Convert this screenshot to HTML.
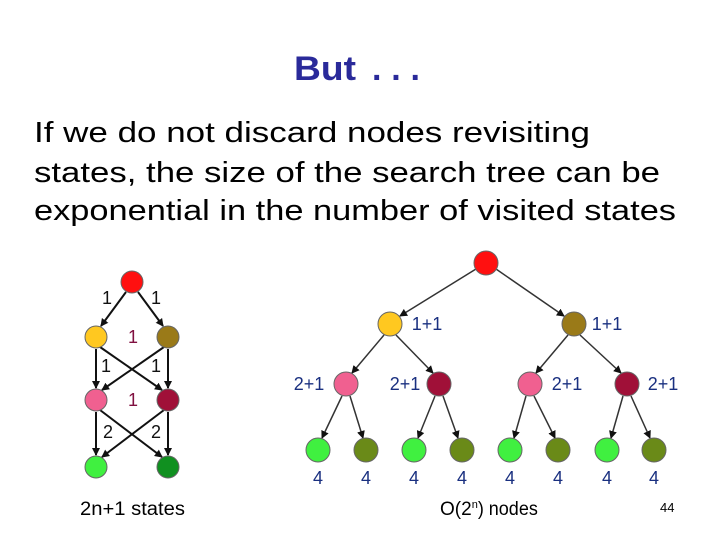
<!DOCTYPE html>
<html><head><meta charset="utf-8"><style>body{margin:0;background:#fff}svg{display:block}</style></head><body>
<svg width="720" height="540" viewBox="0 0 720 540" xmlns="http://www.w3.org/2000/svg" font-family="Liberation Sans, sans-serif">
<defs><marker id="a" markerWidth="8" markerHeight="8" refX="7" refY="4" orient="auto" markerUnits="userSpaceOnUse"><path d="M0,0 L8,4 L0,8 z" fill="#111"/></marker></defs>
<text x="294" y="80" font-size="34" font-weight="bold" fill="#2a2a9a" textLength="62" lengthAdjust="spacingAndGlyphs">But</text>
<text x="372" y="80" font-size="34" font-weight="bold" fill="#2a2a9a" textLength="48" lengthAdjust="spacing">...</text>
<g font-size="29" fill="#000">
<text x="34" y="142" textLength="556" lengthAdjust="spacingAndGlyphs">If we do not discard nodes revisiting</text>
<text x="34" y="182" textLength="626" lengthAdjust="spacingAndGlyphs">states, the size of the search tree can be</text>
<text x="34" y="220" textLength="642" lengthAdjust="spacingAndGlyphs">exponential in the number of visited states</text>
</g>
<g stroke="#111" stroke-width="2" marker-end="url(#a)">
<line x1="126" y1="292" x2="101" y2="326"/><line x1="138" y1="292" x2="163" y2="326"/>
<line x1="96" y1="349" x2="96" y2="388"/><line x1="168" y1="349" x2="168" y2="388"/>
<line x1="100" y1="347" x2="162" y2="390"/><line x1="164" y1="347" x2="102" y2="390"/>
<line x1="96" y1="412" x2="96" y2="455"/><line x1="168" y1="412" x2="168" y2="455"/>
<line x1="100" y1="410" x2="162" y2="457"/><line x1="164" y1="410" x2="102" y2="457"/>
</g>
<g stroke="#333" stroke-width="1.5" marker-end="url(#a)">
<line x1="476" y1="269" x2="400" y2="316"/><line x1="496" y1="269" x2="564" y2="316"/>
<line x1="384" y1="335" x2="352" y2="373"/><line x1="396" y1="335" x2="433" y2="373"/>
<line x1="568" y1="335" x2="536" y2="373"/><line x1="580" y1="335" x2="621" y2="373"/>
<line x1="342" y1="396" x2="322" y2="438"/><line x1="350" y1="396" x2="363" y2="438"/>
<line x1="435" y1="396" x2="418" y2="438"/><line x1="443" y1="396" x2="458" y2="438"/>
<line x1="526" y1="396" x2="514" y2="438"/><line x1="534" y1="396" x2="555" y2="438"/>
<line x1="623" y1="396" x2="611" y2="438"/><line x1="631" y1="396" x2="650" y2="438"/>
</g>
<g stroke="#666" stroke-width="1">
<circle cx="132" cy="282" r="11" fill="#ff1010"/>
<circle cx="96" cy="337" r="11" fill="#ffc820"/><circle cx="168" cy="337" r="11" fill="#9a7a18"/>
<circle cx="96" cy="400" r="11" fill="#f06090"/><circle cx="168" cy="400" r="11" fill="#a01038"/>
<circle cx="96" cy="467" r="11" fill="#40f040"/><circle cx="168" cy="467" r="11" fill="#109020"/>
<circle cx="486" cy="263" r="12" fill="#ff1010"/>
<circle cx="390" cy="324" r="12" fill="#ffc820"/><circle cx="574" cy="324" r="12" fill="#9a7a18"/>
<circle cx="346" cy="384" r="12" fill="#f06090"/><circle cx="439" cy="384" r="12" fill="#a01038"/>
<circle cx="530" cy="384" r="12" fill="#f06090"/><circle cx="627" cy="384" r="12" fill="#a01038"/>
<circle cx="318" cy="450" r="12" fill="#40f040"/><circle cx="366" cy="450" r="12" fill="#6a8a18"/>
<circle cx="414" cy="450" r="12" fill="#40f040"/><circle cx="462" cy="450" r="12" fill="#6a8a18"/>
<circle cx="510" cy="450" r="12" fill="#40f040"/><circle cx="558" cy="450" r="12" fill="#6a8a18"/>
<circle cx="607" cy="450" r="12" fill="#40f040"/><circle cx="654" cy="450" r="12" fill="#6a8a18"/>
</g>
<g font-size="18" fill="#111" text-anchor="middle">
<text x="107" y="304">1</text><text x="156" y="304">1</text>
<text x="106" y="372">1</text><text x="156" y="372">1</text>
<text x="108" y="438">2</text><text x="156" y="438">2</text>
</g>
<g font-size="18" fill="#801040" text-anchor="middle">
<text x="133" y="343">1</text><text x="133" y="406">1</text>
</g>
<g font-size="18" fill="#1a3080" text-anchor="middle">
<text x="427" y="330">1+1</text><text x="607" y="330">1+1</text>
<text x="309" y="390">2+1</text><text x="405" y="390">2+1</text>
<text x="567" y="390">2+1</text><text x="663" y="390">2+1</text>
<text x="318" y="484">4</text><text x="366" y="484">4</text><text x="414" y="484">4</text><text x="462" y="484">4</text>
<text x="510" y="484">4</text><text x="558" y="484">4</text><text x="607" y="484">4</text><text x="654" y="484">4</text>
</g>
<g font-size="19" fill="#000">
<text x="80" y="515" textLength="105" lengthAdjust="spacingAndGlyphs">2n+1 states</text>
<text x="440" y="515">O(2<tspan font-size="11" dy="-7">n</tspan><tspan dy="7" textLength="60" lengthAdjust="spacingAndGlyphs">) nodes</tspan></text>
<text x="660" y="512" font-size="13">44</text>
</g>
</svg>
</body></html>
